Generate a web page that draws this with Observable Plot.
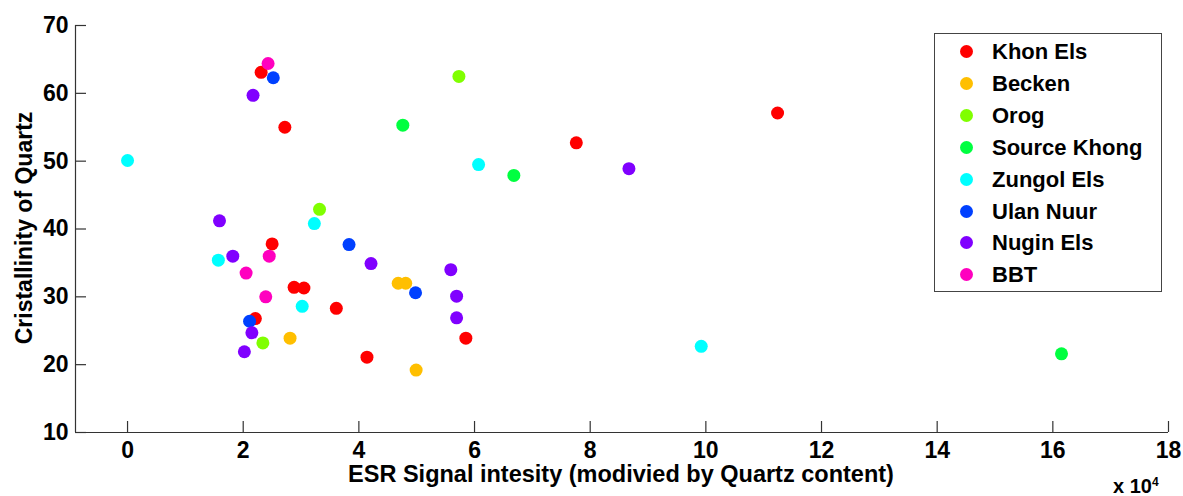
<!DOCTYPE html>
<html>
<head>
<meta charset="utf-8">
<script src="https://cdn.jsdelivr.net/npm/d3@7"></script>
<script src="https://cdn.jsdelivr.net/npm/@observablehq/plot@0.6"></script>
<style>
  body { margin: 0; background: #fff; }
  #wrap { position: relative; width: 1183px; height: 496px; font-family: "Liberation Sans", Arial, sans-serif; font-weight: bold; color: #000; }
  #chart { position: absolute; left: 0; top: 0; }
  .abs { position: absolute; white-space: nowrap; }
  #legend { position: absolute; left: 934px; top: 33px; width: 228px; height: 259px; border: 1px solid #444; background: #fff; box-sizing: border-box; }
  .lrow { position: absolute; left: 0; width: 226px; height: 24px; font-size: 22px; line-height: 24px; white-space: nowrap; }
  .lsw { position: absolute; left: 25px; top: 5px; width: 13px; height: 13px; border-radius: 50%; }
  .ltx { position: absolute; left: 57px; top: 0; white-space: nowrap; }
</style>
</head>
<body>
<div id="wrap">
  <div id="chart"></div>
</div>
<script>
// ---- data (x in units of 10^4) ----
const groups = ["Khon Els", "Becken", "Orog", "Source Khong", "Zungol Els", "Ulan Nuur", "Nugin Els", "BBT"];
const groupColors = ["#ff0000", "#ffbf00", "#80ff00", "#00ff40", "#00ffff", "#0040ff", "#8000ff", "#ff00bf"];

const khonElsX = [2.31, 2.72, 2.50, 2.88, 3.05, 3.61, 2.21, 4.14, 7.76, 11.24, 5.85];
const khonElsY = [63.1, 55.0, 37.8, 31.4, 31.3, 28.3, 26.8, 21.1, 52.7, 57.1, 23.9];
const beckenX = [4.68, 4.81, 2.81, 4.99];
const beckenY = [32.0, 32.0, 23.9, 19.2];
const orogX = [5.73, 3.32, 2.34];
const orogY = [62.5, 42.9, 23.2];
const sourceKhongX = [4.76, 6.68, 16.15];
const sourceKhongY = [55.3, 47.9, 21.6];
const zungolElsX = [0.0, 3.23, 1.57, 3.02, 6.07, 9.92];
const zungolElsY = [50.1, 40.8, 35.4, 28.6, 49.5, 22.7];
const ulanNuurX = [2.52, 3.83, 2.11, 4.98];
const ulanNuurY = [62.3, 37.7, 26.4, 30.6];
const nuginElsX = [2.17, 1.59, 1.82, 4.21, 2.15, 2.02, 8.67, 5.59, 5.69, 5.69];
const nuginElsY = [59.7, 41.2, 36.0, 34.9, 24.7, 21.9, 48.9, 34.0, 30.1, 26.9];
const bbtX = [2.43, 2.45, 2.05, 2.39];
const bbtY = [64.4, 36.0, 33.5, 30.0];

const xTicks = [0, 2, 4, 6, 8, 10, 12, 14, 16, 18];
const yTicks = [10, 20, 30, 40, 50, 60, 70];
const xLabel = "ESR Signal intesity (modivied by Quartz content)";
const yLabel = "Cristallinity of Quartz";
const xExponent = "4";

const seriesX = [khonElsX, beckenX, orogX, sourceKhongX, zungolElsX, ulanNuurX, nuginElsX, bbtX];
const seriesY = [khonElsY, beckenY, orogY, sourceKhongY, zungolElsY, ulanNuurY, nuginElsY, bbtY];

const points = [];
groups.forEach((g, i) => {
  seriesX[i].forEach((xv, j) => points.push({ group: g, x: xv, y: seriesY[i][j] }));
});

const xDomain = [-0.9, 18];
const yDomain = [10, 70];
const W = 1183, H = 496, mL = 75, mT = 25, mR = 15, mB = 64;
const tickPx = 11;
const xTickLen = tickPx * (yDomain[1] - yDomain[0]) / (H - mT - mB);   // in y data units
const yTickLen = tickPx * (xDomain[1] - xDomain[0]) / (W - mL - mR);   // in x data units

const axisColor = "#333";
const plot = Plot.plot({
  width: W,
  height: H,
  marginLeft: mL,
  marginTop: mT,
  marginRight: mR,
  marginBottom: mB,
  style: { fontFamily: "'Liberation Sans', Arial, sans-serif", fontSize: "23px", fontWeight: "bold", color: "#000", background: "#fff", overflow: "visible" },
  x: { domain: xDomain },
  y: { domain: yDomain },
  color: { domain: groups, range: groupColors },
  marks: [
    // tick labels
    Plot.axisX({ ticks: xTicks, tickSize: 0, tickPadding: 9, label: null, tickFormat: d => String(d) }),
    Plot.axisY({ ticks: yTicks, tickSize: 0, tickPadding: 7, label: null, tickFormat: d => String(d) }),
    // inward tick marks
    Plot.ruleX(xTicks, { x: d => d, y1: yDomain[0], y2: yDomain[0] + xTickLen, stroke: axisColor, strokeWidth: 1.2 }),
    Plot.ruleY(yTicks, { y: d => d, x1: xDomain[0], x2: xDomain[0] + yTickLen, stroke: axisColor, strokeWidth: 1.2 }),
    Plot.ruleY([yDomain[0]], { stroke: axisColor, strokeWidth: 1.2 }),
    Plot.ruleX([xDomain[0]], { stroke: axisColor, strokeWidth: 1.2 }),
    Plot.dot(points, { x: "x", y: "y", fill: "group", r: 6.5 })
  ]
});
document.getElementById("chart").appendChild(plot);

const wrap = document.getElementById("wrap");
// x-axis title
const xt = document.createElement("div");
xt.className = "abs";
xt.style.cssText = "left:621px;top:465px;font-size:23.5px;line-height:18px;transform:translateX(-50%);";
xt.textContent = xLabel;
wrap.appendChild(xt);
// y-axis title
const yt = document.createElement("div");
yt.className = "abs";
yt.style.cssText = "left:24px;top:228px;font-size:23px;line-height:23px;transform:translate(-50%,-50%) rotate(-90deg);";
yt.textContent = yLabel;
wrap.appendChild(yt);
// exponent
const ex = document.createElement("div");
ex.className = "abs";
ex.style.cssText = "left:1113px;top:476px;font-size:20px;line-height:20px;";
ex.innerHTML = "x 10<sup style='font-size:12px;position:relative;top:-4px;vertical-align:top;'>" + xExponent + "</sup>";
wrap.appendChild(ex);
// legend
const color = plot.scale("color");
const lg = document.createElement("div");
lg.id = "legend";
groups.forEach((g, i) => {
  const row = document.createElement("div");
  row.className = "lrow";
  row.style.top = (6 + i * 31.9) + "px";
  const sw = document.createElement("div");
  sw.className = "lsw";
  sw.style.background = color.apply(g);
  const tx = document.createElement("div");
  tx.className = "ltx";
  tx.textContent = g;
  row.appendChild(sw); row.appendChild(tx);
  lg.appendChild(row);
});
wrap.appendChild(lg);
</script>
</body>
</html>
